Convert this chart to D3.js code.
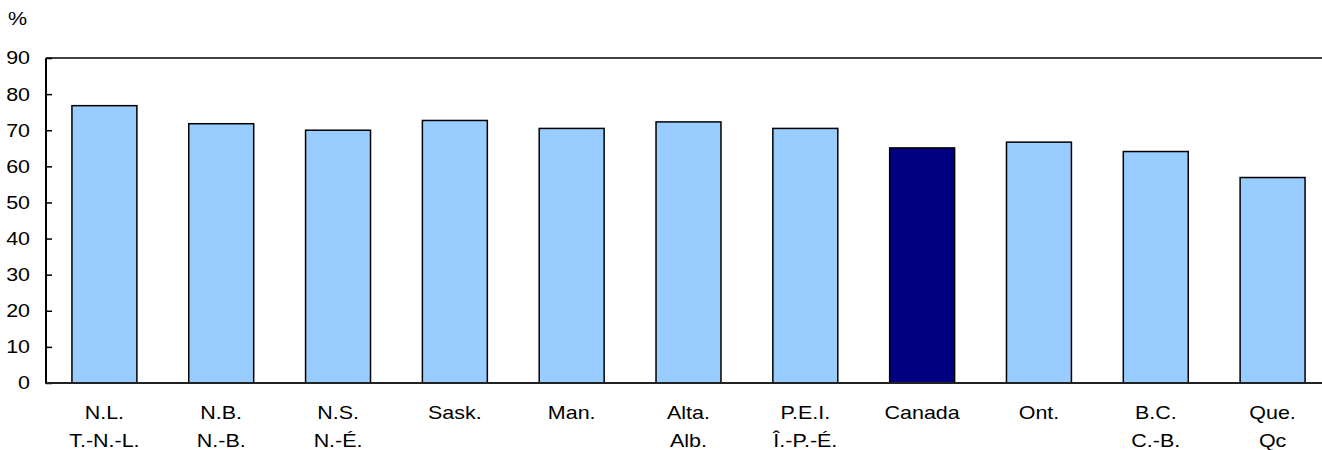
<!DOCTYPE html>
<html>
<head>
<meta charset="utf-8">
<script src="https://cdn.jsdelivr.net/npm/d3@7"></script>
<style>
  body { margin: 0; background: #fff; }
  svg { display: block; font-family: "Liberation Sans", Arial, sans-serif; }
</style>
</head>
<body>
<svg id="chart" width="1322" height="450"></svg>
<script>
const labelsEn = ["N.L.", "N.B.", "N.S.", "Sask.", "Man.", "Alta.", "P.E.I.", "Canada", "Ont.", "B.C.", "Que."];
const labelsFr = ["T.-N.-L.", "N.-B.", "N.-É.", "", "", "Alb.", "Î.-P.-É.", "", "", "C.-B.", "Qc"];
const values = [76.8, 71.8, 70.0, 72.7, 70.5, 72.3, 70.5, 65.1, 66.7, 64.1, 56.9];
const yTicks = [0, 10, 20, 30, 40, 50, 60, 70, 80, 90];
const highlight = "Canada";

(function () {
const svg = d3.select("#chart");
const mLeft = 46, mTop = 58, mBottom = 383, mRight = 1331;
const FS = 18.5, SX = 1.16;

const x = d3.scaleBand().domain(labelsEn).range([mLeft, mRight]).paddingInner(0.444).paddingOuter(0.222);
const y = d3.scaleLinear().domain([0, 90]).range([mBottom, mTop]);

function stext(parent, tx, ty, str, anchor, dy) {
  const g = parent.append("g").attr("transform", `translate(${tx},${ty}) scale(${SX},1)`);
  const t = g.append("text").attr("x", 0).attr("y", 0).attr("text-anchor", anchor)
    .attr("font-size", FS).attr("fill", "#000").text(str);
  if (dy) t.attr("dy", dy);
  return t;
}

// bars
svg.append("g").selectAll("rect").data(values).join("rect")
  .attr("x", (d, i) => x(labelsEn[i]))
  .attr("y", d => y(d))
  .attr("width", x.bandwidth())
  .attr("height", d => y(0) - y(d))
  .attr("fill", (d, i) => labelsEn[i] === highlight ? "#000080" : "#99CCFF")
  .attr("stroke", "#000")
  .attr("stroke-width", 1.5);

// top frame line
svg.append("line").attr("x1", mLeft).attr("x2", 1322).attr("y1", y(90)).attr("y2", y(90))
  .attr("stroke", "#000").attr("stroke-width", 1.7);

// y axis ticks (inward)
const yAxis = d3.axisRight(y).tickValues(yTicks).tickSize(6).tickFormat("");
const gy = svg.append("g").attr("transform", `translate(${mLeft},0)`).call(yAxis);
gy.select(".domain").remove();
gy.selectAll(".tick line").attr("stroke", "#000").attr("stroke-width", 1.5);
svg.append("line").attr("x1", mLeft).attr("x2", mLeft).attr("y1", y(90)).attr("y2", y(0))
  .attr("stroke", "#000").attr("stroke-width", 2);

// y tick labels
const gyl = svg.append("g");
yTicks.forEach(d => stext(gyl, 30, y(d), String(d), "end", "0.35em"));

// bottom axis line
svg.append("line").attr("x1", mLeft - 1).attr("x2", 1322).attr("y1", y(0)).attr("y2", y(0))
  .attr("stroke", "#222").attr("stroke-width", 2);

// unit
stext(svg, 8, 25, "%", "start");

// category labels
const xl = svg.append("g");
labelsEn.forEach((lab, i) => {
  const cx = x(lab) + x.bandwidth() / 2;
  stext(xl, cx, 419, lab, "middle");
  if (labelsFr[i]) stext(xl, cx, 447, labelsFr[i], "middle");
});
})();
</script>
</body>
</html>
